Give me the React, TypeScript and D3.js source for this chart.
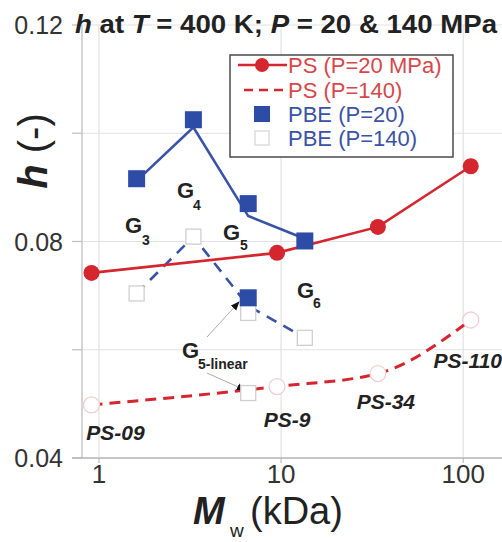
import React from "react";
import * as d3 from "d3";

// ---- data ----
const mwPS = [0.91, 9.5, 34, 110];
const hPS20 = [0.0742, 0.0779, 0.0827, 0.0939];
const hPS140 = [0.0498, 0.0532, 0.0556, 0.0655];
const psNames = ["PS-09", "PS-9", "PS-34", "PS-110"];

const mwPBE = [1.61, 3.3, 6.6, 13.5];
const hPBE20 = [0.0916, 0.1025, 0.087, 0.0801];
const hPBE20Line = [0.0912, 0.1011, 0.0847, 0.0805];
const hPBE140 = [0.0704, 0.0809, 0.0668, 0.0622];
const hPBE140Line = [0.0704, 0.0809, 0.0681, 0.0622];

const mwLinear = 6.6;
const hLinear20 = 0.0696;
const hLinear140 = 0.052;

const yTicks = [0.04, 0.06, 0.08, 0.1, 0.12];
const yTickLabels = ["0.04", "", "0.08", "", "0.12"];
const xTicks = [1, 10, 100];
const xTickLabels = ["1", "10", "100"];

const legendLabels = ["PS (P=20 MPa)", "PS (P=140)", "PBE (P=20)", "PBE (P=140)"];

// ---- layout ----
const W = 502, H = 542;
const left = 82, bottom = 458, top = 25, right = 520;
const FONT = "'Liberation Sans', Arial, Helvetica, sans-serif";
const RED = "#d4262e";
const BLUE = "#2d4ca6";
const BLUE_LINE = "#3852a6";

const x = d3.scaleLog().domain([0.807, 205]).range([left, right]);
const y = d3.scaleLinear().domain([0.04, 0.12]).range([bottom, top]);

const psLabelOffsets = [
  [24, 35],
  [10, 40],
  [8, 35],
  [-3, 48],
];

const gLabels = [
  { x: 125, y: 233, main: "G", sub: "3", sx: 142, sy: 245 },
  { x: 177, y: 198, main: "G", sub: "4", sx: 193, sy: 210 },
  { x: 223, y: 240, main: "G", sub: "5", sx: 240, sy: 250 },
  { x: 297, y: 298, main: "G", sub: "6", sx: 313, sy: 308 },
  { x: 182, y: 358, main: "G", sub: "5-linear", sx: 198, sy: 369 },
];

export default function App() {
  const lineStraight = d3
    .line<[number, number]>()
    .x((d) => x(d[0]))
    .y((d) => y(d[1]));
  const lineCurve = d3
    .line<[number, number]>()
    .x((d) => x(d[0]))
    .y((d) => y(d[1]))
    .curve(d3.curveMonotoneX);

  const ps20 = mwPS.map((m, i) => [m, hPS20[i]] as [number, number]);
  const ps140 = mwPS.map((m, i) => [m, hPS140[i]] as [number, number]);
  const pbe20L = mwPBE.map((m, i) => [m, hPBE20Line[i]] as [number, number]);
  const pbe140L = mwPBE.map((m, i) => [m, hPBE140Line[i]] as [number, number]);

  const sq = 17;
  const osq = 15;

  return (
    <svg
      width={W}
      height={H}
      style={{ position: "absolute", left: 0, top: 0, background: "#fff" }}
      fontFamily={FONT}
    >
      <defs>
        <marker id="ah" viewBox="0 0 10 10" refX="9" refY="5" markerWidth="9" markerHeight="9" orient="auto">
          <path d="M0,1 L10,5 L0,9 z" fill="#111" />
        </marker>
      </defs>
      <rect x={0} y={0} width={W} height={H} fill="#fff" />

      {/* grid */}
      {yTicks.map((t, i) => (
        <g key={"yg" + i}>
          <line x1={left} x2={right} y1={y(t)} y2={y(t)} stroke="#e2e2e2" strokeWidth={1.2} />
          <line x1={left - 10} x2={left} y1={y(t)} y2={y(t)} stroke="#bdbdbd" strokeWidth={1.2} />
        </g>
      ))}
      {xTicks.map((t, i) => (
        <g key={"xg" + i}>
          <line x1={x(t)} x2={x(t)} y1={top} y2={bottom} stroke="#e2e2e2" strokeWidth={1.2} />
          <line x1={x(t)} x2={x(t)} y1={bottom} y2={bottom + 5} stroke="#bdbdbd" strokeWidth={1.2} />
        </g>
      ))}
      <line x1={left} x2={left} y1={top} y2={bottom} stroke="#c4c4c4" strokeWidth={1.4} />
      <line x1={left - 10} x2={right} y1={bottom} y2={bottom} stroke="#b8b8b8" strokeWidth={1.4} />

      {/* tick labels */}
      {yTicks.map((t, i) =>
        yTickLabels[i] ? (
          <text key={"yl" + i} x={63} y={y(t) + 9} textAnchor="end" fontSize={25} fill="#333">
            {yTickLabels[i]}
          </text>
        ) : null
      )}
      {xTicks.map((t, i) => (
        <text key={"xl" + i} x={x(t)} y={483} textAnchor="middle" fontSize={26} fill="#333">
          {xTickLabels[i]}
        </text>
      ))}

      {/* title */}
      <text x={75} y={33} fontSize={26} fontWeight="bold" fill="#222" textLength={422} lengthAdjust="spacingAndGlyphs">
        <tspan fontStyle="italic">h</tspan>
        <tspan> at </tspan>
        <tspan fontStyle="italic">T</tspan>
        <tspan> = 400 K; </tspan>
        <tspan fontStyle="italic">P</tspan>
        <tspan> = 20 &amp; 140 MPa</tspan>
      </text>

      {/* axis titles */}
      <text transform="translate(47,151) rotate(-90)" textAnchor="middle" fontSize={40} fill="#222">
        <tspan fontWeight="bold" fontStyle="italic">h</tspan>
        <tspan> (-)</tspan>
      </text>
      <text x={193} y={524} fontSize={38} fontWeight="bold" fontStyle="italic" fill="#222">M</text>
      <text x={230} y={537} fontSize={19} fill="#222">w</text>
      <text x={250} y={524} fontSize={38} fill="#222">(kDa)</text>

      {/* lines */}
      <path d={lineStraight(pbe20L) || ""} fill="none" stroke={BLUE_LINE} strokeWidth={2.6} />
      <path d={lineStraight(pbe140L) || ""} fill="none" stroke={BLUE_LINE} strokeWidth={2.6} strokeDasharray="11,8" />
      <path d={lineStraight(ps20) || ""} fill="none" stroke={RED} strokeWidth={2.6} />
      <path d={lineCurve(ps140) || ""} fill="none" stroke={RED} strokeWidth={3} strokeDasharray="11,7" />

      {/* arrows */}
      <line x1={207} y1={337} x2={239} y2={302} stroke="#aaa" strokeWidth={1} markerEnd="url(#ah)" />
      <line x1={207} y1={373} x2={245} y2={390} stroke="#aaa" strokeWidth={1} markerEnd="url(#ah)" />

      {/* markers */}
      {mwPBE.map((m, i) => (
        <rect key={"o140" + i} x={x(m) - osq / 2} y={y(hPBE140[i]) - osq / 2} width={osq} height={osq} fill="#fff" stroke="#cfcfcf" strokeWidth={1.3} />
      ))}
      <rect x={x(mwLinear) - osq / 2} y={y(hLinear140) - osq / 2} width={osq} height={osq} fill="#fff" stroke="#cfcfcf" strokeWidth={1.3} />
      {mwPBE.map((m, i) => (
        <rect key={"f20" + i} x={x(m) - sq / 2} y={y(hPBE20[i]) - sq / 2} width={sq} height={sq} fill={BLUE} />
      ))}
      <rect x={x(mwLinear) - sq / 2} y={y(hLinear20) - sq / 2} width={sq} height={sq} fill={BLUE} />
      {mwPS.map((m, i) => (
        <circle key={"c140" + i} cx={x(m)} cy={y(hPS140[i])} r={8} fill="#fff" stroke="#f1cfd1" strokeWidth={1.3} />
      ))}
      {mwPS.map((m, i) => (
        <circle key={"c20" + i} cx={x(m)} cy={y(hPS20[i])} r={8} fill={RED} />
      ))}

      {/* PS labels */}
      {mwPS.map((m, i) => (
        <text
          key={"psl" + i}
          x={x(m) + psLabelOffsets[i][0]}
          y={y(hPS140[i]) + psLabelOffsets[i][1]}
          textAnchor="middle"
          fontSize={21}
          fontWeight="bold"
          fontStyle="italic"
          fill="#222"
        >
          {psNames[i]}
        </text>
      ))}

      {/* G labels */}
      {gLabels.map((g, i) => (
        <g key={"g" + i} fill="#222" fontWeight="bold">
          <text x={g.x} y={g.y} fontSize={22}>{g.main}</text>
          <text x={g.sx} y={g.sy} fontSize={14}>{g.sub}</text>
        </g>
      ))}

      {/* legend */}
      <rect x={230} y={55} width={223} height={102} fill="#fff" stroke="#4a4a4a" strokeWidth={1.5} />
      <line x1={238} x2={287} y1={65} y2={65} stroke={RED} strokeWidth={2.6} />
      <circle cx={262} cy={65} r={7} fill={RED} />
      <line x1={244} x2={287} y1={90} y2={90} stroke={RED} strokeWidth={2.6} strokeDasharray="9,6" />
      <rect x={262 - 8} y={114 - 8} width={16} height={16} fill={BLUE} />
      <rect x={262 - 7} y={138 - 7} width={14} height={14} fill="#fff" stroke="#d4d4d4" strokeWidth={1.2} />
      {legendLabels.map((l, i) => (
        <text key={"lg" + i} x={288} y={[65, 90, 114, 138][i] + 8} fontSize={22} fill={i < 2 ? "#d6474c" : "#3a52a6"}>
          {l}
        </text>
      ))}
    </svg>
  );
}
